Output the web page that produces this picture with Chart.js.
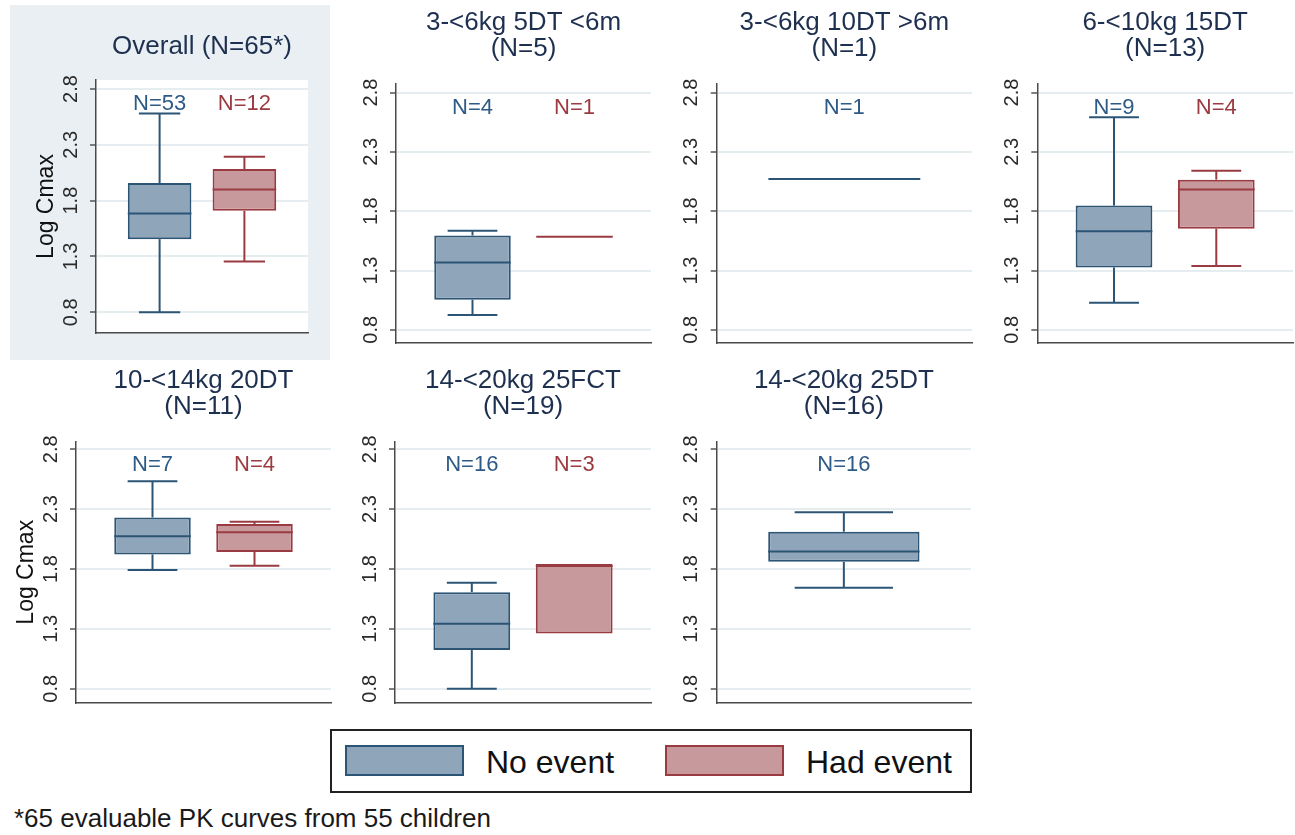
<!DOCTYPE html>
<html>
<head>
<meta charset="utf-8">
<title>Log Cmax by weight band</title>
<script src="https://cdn.jsdelivr.net/npm/chart.js@4.4.1/dist/chart.umd.min.js"></script>
<style>
  body { margin: 0; background: #fff; font-family: "Liberation Sans", Arial, sans-serif; }
  #page { position: relative; width: 1295px; height: 835px; overflow: hidden; background: #fff; }
  #page canvas { position: absolute; }
  #legend { position: absolute; left: 330px; top: 729px; width: 638px; height: 60px; border: 2px solid #222; background: #fff; }
  #legend .key { position: absolute; top: 14px; width: 115px; height: 27px; border: 2px solid; }
  #legend .txt { position: absolute; top: 15px; font-size: 32px; line-height: 32px; color: #111; white-space: nowrap; }
  #note { position: absolute; left: 14px; top: 805px; font-size: 26px; line-height: 26px; color: #1a1a1a; white-space: nowrap; }
</style>
</head>
<body>
<div id="page">
  <div id="legend">
    <div class="key" style="left:13px; background:#8ea5ba; border-color:#2c5475;"></div>
    <div class="txt" style="left:154px;">No event</div>
    <div class="key" style="left:333px; background:#c8999c; border-color:#9a3b42;"></div>
    <div class="txt" style="left:474px;">Had event</div>
  </div>
  <div id="note">*65 evaluable PK curves from 55 children</div>
</div>
<script>
// panel titles
const panelTitles = [
  ['Overall (N=65*)'],
  ['3-<6kg 5DT <6m', '(N=5)'],
  ['3-<6kg 10DT >6m', '(N=1)'],
  ['6-<10kg 15DT', '(N=13)'],
  ['10-<14kg 20DT', '(N=11)'],
  ['14-<20kg 25FCT', '(N=19)'],
  ['14-<20kg 25DT', '(N=16)']
];
// group sizes (null = group absent)
const noEventN  = [53, 4, 1, 9, 7, 16, 16];
const hadEventN = [12, 1, null, 4, 4, 3, null];
// box stats per panel: [min, q1, median, q3, max]
const noEventBox = [
  [0.80, 1.455, 1.685, 1.957, 2.58],
  [0.925, 1.054, 1.368, 1.595, 1.636],
  [2.072, 2.072, 2.072, 2.072, 2.072],
  [1.029, 1.326, 1.631, 1.847, 2.592],
  [1.792, 1.922, 2.073, 2.231, 2.532],
  [0.80, 1.123, 1.342, 1.607, 1.686],
  [1.643, 1.86, 1.947, 2.112, 2.275]
];
const hadEventBox = [
  [1.255, 1.709, 1.90, 2.083, 2.193],
  [1.584, 1.584, 1.584, 1.584, 1.584],
  null,
  [1.337, 1.653, 1.983, 2.066, 2.141],
  [1.827, 1.943, 2.107, 2.175, 2.195],
  [1.261, 1.261, 1.825, 1.841, 1.841],
  null
];
const yTicks = [0.8, 1.3, 1.8, 2.3, 2.8];
const yTitle = 'Log Cmax';
const groupNames = ['No event', 'Had event'];

const BLUE = { fill: '#8ea5ba', line: '#2c5475', text: '#2e5a86' };
const RED  = { fill: '#c8999c', line: '#9a3b42', text: '#9b3b41' };
const FONT = '"Liberation Sans", Arial, sans-serif';
const N_LABEL_AT = 2.67;

Chart.defaults.font.family = FONT;

// where each panel sits on the page
const frames = [
  { left: 10,  top: 5,   w: 320, h: 355, pl: 15,   pr: 22, pb: 27, yw: 71, tTop: 29,  tBot: 20, yMin: 0.614, yMax: 2.881, bg: '#e9eff2', axisTitle: true },
  { left: 330, top: 0,   w: 325, h: 360, pl: 26,   pr: 4,  pb: 13, yw: 40, tTop: 10,  tBot: 22, yMin: 0.689, yMax: 2.872 },
  { left: 652, top: 0,   w: 322, h: 360, pl: 24.7, pr: 2,  pb: 13, yw: 40, tTop: 10,  tBot: 22, yMin: 0.689, yMax: 2.872 },
  { left: 975, top: 0,   w: 320, h: 360, pl: 22.3, pr: 2,  pb: 13, yw: 40, tTop: 10,  tBot: 22, yMin: 0.689, yMax: 2.872 },
  { left: 0,   top: 360, w: 332, h: 360, pl: 5,    pr: 1,  pb: 15, yw: 71, tTop: 7.5, tBot: 22, yMin: 0.681, yMax: 2.865, axisTitle: true },
  { left: 332, top: 360, w: 322, h: 360, pl: 23,   pr: 3,  pb: 15, yw: 40, tTop: 7.5, tBot: 22, yMin: 0.681, yMax: 2.865 },
  { left: 652, top: 360, w: 322, h: 360, pl: 24.7, pr: 3,  pb: 15, yw: 40, tTop: 7.5, tBot: 22, yMin: 0.681, yMax: 2.865 }
];

// white plot background (only visible on the shaded Overall panel)
const plotBg = {
  id: 'plotBg',
  beforeDraw(chart) {
    const a = chart.chartArea;
    chart.ctx.save();
    chart.ctx.fillStyle = '#fff';
    chart.ctx.fillRect(a.left, a.top, a.right - a.left, a.bottom - a.top);
    chart.ctx.restore();
  }
};

// whiskers, caps, medians and the N= labels on top of the floating bars
const whiskers = {
  id: 'whiskers',
  afterDatasetsDraw(chart) {
    const ctx = chart.ctx;
    const y = chart.scales.y;
    chart.data.datasets.forEach((ds, di) => {
      const bar = chart.getDatasetMeta(di).data[0];
      if (!bar) return;
      const [lo, q1, med, q3, hi] = ds.stats;
      const cx = bar.x, half = bar.width / 2, cap = half * 0.65;
      const seg = (x1, y1, x2, y2) => { ctx.beginPath(); ctx.moveTo(x1, y1); ctx.lineTo(x2, y2); ctx.stroke(); };
      ctx.save();
      ctx.strokeStyle = ds.borderColor;
      ctx.lineWidth = 2;
      if (hi > q3) {
        seg(cx, y.getPixelForValue(q3), cx, y.getPixelForValue(hi));
        seg(cx - cap, y.getPixelForValue(hi), cx + cap, y.getPixelForValue(hi));
      }
      if (lo < q1) {
        seg(cx, y.getPixelForValue(q1), cx, y.getPixelForValue(lo));
        seg(cx - cap, y.getPixelForValue(lo), cx + cap, y.getPixelForValue(lo));
      }
      seg(cx - half, y.getPixelForValue(med), cx + half, y.getPixelForValue(med));
      ctx.fillStyle = ds.nColor;
      ctx.font = '22px ' + FONT;
      ctx.textAlign = 'center';
      ctx.textBaseline = 'middle';
      ctx.fillText('N=' + ds.n, cx, y.getPixelForValue(N_LABEL_AT));
      ctx.restore();
    });
  }
};

const page = document.getElementById('page');

frames.forEach((f, i) => {
  const cv = document.createElement('canvas');
  cv.width = f.w; cv.height = f.h;
  cv.style.left = f.left + 'px'; cv.style.top = f.top + 'px';
  if (f.bg) cv.style.background = f.bg;
  page.appendChild(cv);

  const groups = [{ name: groupNames[0], stats: noEventBox[i], n: noEventN[i], col: BLUE }];
  if (hadEventBox[i]) groups.push({ name: groupNames[1], stats: hadEventBox[i], n: hadEventN[i], col: RED });
  const xs = groups.length === 2 ? [0.3, 0.7] : [0.5];

  const datasets = groups.map((g, k) => ({
    label: g.name,
    data: [{ x: xs[k], y: [g.stats[1], g.stats[3]] }],
    backgroundColor: g.col.fill,
    borderColor: g.col.line,
    borderWidth: 2,
    borderSkipped: false,
    grouped: false,
    categoryPercentage: 1,
    barPercentage: groups.length === 2 ? 0.75 : 0.595,
    stats: g.stats,
    n: g.n,
    nColor: g.col.text
  }));

  new Chart(cv, {
    type: 'bar',
    data: { datasets },
    options: {
      responsive: false,
      animation: false,
      devicePixelRatio: 1,
      layout: { padding: { left: f.pl, right: f.pr, top: 0, bottom: f.pb } },
      plugins: {
        legend: { display: false },
        tooltip: { enabled: false },
        title: {
          display: true,
          text: panelTitles[i],
          color: '#1e3050',
          fullSize: false,
          font: { size: 26, weight: 'normal', lineHeight: 1.0 },
          padding: { top: f.tTop, bottom: f.tBot }
        }
      },
      scales: {
        x: {
          type: 'linear', min: 0, max: 1, offset: false,
          grid: { display: false },
          ticks: { display: false },
          border: { display: true, color: '#4a4a4a', width: 1.5 },
          afterBuildTicks: s => { s.ticks = [{ value: 0 }, { value: 1 }]; },
          afterFit: s => { s.height = 0; }
        },
        y: {
          min: f.yMin, max: f.yMax,
          afterBuildTicks: s => { s.ticks = yTicks.map(v => ({ value: v })); },
          afterFit: s => { s.width = f.yw; },
          grid: { color: '#e6edf1', lineWidth: 2, drawTicks: true, tickLength: 6, tickColor: '#555', tickWidth: 1.5 },
          border: { display: true, color: '#4a4a4a', width: 1.5 },
          ticks: {
            minRotation: 90, maxRotation: 90,
            crossAlign: 'center',
            padding: 5,
            color: '#2a2a2a',
            font: { size: 20 },
            callback: v => Number(v).toFixed(1)
          },
          title: {
            display: !!f.axisTitle,
            text: yTitle,
            color: '#111',
            font: { size: 23 },
            padding: { top: 8, bottom: 0 }
          }
        }
      }
    },
    plugins: [plotBg, whiskers]
  });
});
</script>
</body>
</html>
